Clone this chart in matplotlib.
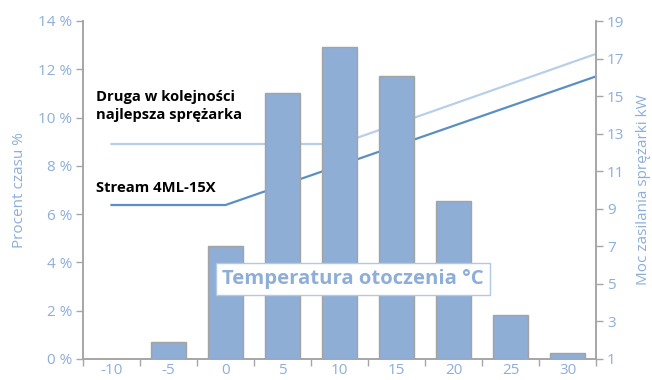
import matplotlib
matplotlib.use("Agg")
import matplotlib.pyplot as plt
import numpy as np

plt.rcParams['font.family'] = ['Open Sans', 'DejaVu Sans']

# Ambient temperature bins (°C) and share of time (%)
temps = [-10, -5, 0, 5, 10, 15, 20, 25, 30]
time_share = [0.0, 0.70, 4.68, 11.02, 12.92, 11.72, 6.55, 1.82, 0.25]

# Compressor input power (kW) vs temperature
stream_t = [-10, 0, 32.5]
stream_kw = [9.2, 9.2, 16.05]
second_t = [-10, 10, 32.5]
second_kw = [12.45, 12.45, 17.25]

y_left_ticks = list(range(0, 15, 2))
y_right_ticks = list(range(1, 20, 2))

label_c = '#8eaed8'
bar_c = '#8eaed6'
edge_c = '#a3a3a3'
axis_c = '#a6a6a6'

fig = plt.figure(figsize=(6.52, 3.80), dpi=100)
ax = fig.add_axes([83 / 652, 1 - 359 / 380, (596 - 83) / 652, (359 - 21) / 380])

ax.bar(temps, time_share, width=3.1, color=bar_c, edgecolor=edge_c, linewidth=1.0, zorder=3)
ax.set_xlim(-12.5, 32.5)
ax.set_ylim(0, 14)
ax.set_yticks(y_left_ticks)
ax.set_yticklabels([f'{v} %' for v in y_left_ticks])
ax.set_xticks(temps)
ax.set_xticklabels([str(t) for t in temps])
ax.set_xticks(np.arange(-12.5, 33, 5), minor=True)
ax.tick_params(axis='x', which='major', length=0, pad=3, labelsize=11, labelcolor=label_c)
ax.tick_params(axis='x', which='minor', length=5, width=1, color=axis_c, direction='out')
ax.tick_params(axis='y', length=5, width=1, color=axis_c, labelsize=11, labelcolor=label_c, pad=3)
ax.set_ylabel('Procent czasu %', color=label_c, fontsize=11, labelpad=8)

ax.spines['top'].set_visible(False)
for s in ['left', 'bottom', 'right']:
    ax.spines[s].set_color(axis_c)
    ax.spines[s].set_linewidth(1.2)

ax2 = ax.twinx()
ax2.set_ylim(1, 19)
ax2.set_yticks(y_right_ticks)
ax2.tick_params(axis='y', length=5, width=1, color=axis_c, labelsize=11, labelcolor=label_c, pad=3)
ax2.set_ylabel('Moc zasilania sprężarki kW', color=label_c, fontsize=11, labelpad=8)
ax2.spines['top'].set_visible(False)
for s in ['left', 'bottom', 'right']:
    ax2.spines[s].set_color(axis_c)
    ax2.spines[s].set_linewidth(1.2)

ax2.plot(second_t, second_kw, color='#b9cfe8', linewidth=1.6, zorder=2)
ax2.plot(stream_t, stream_kw, color='#5b8fc3', linewidth=1.6, zorder=2)
ax.set_zorder(ax2.get_zorder() + 1)
ax.patch.set_visible(False)

ax.text(96 / 652, 1 - 106 / 380, 'Druga w kolejności\nnajlepsza sprężarka', transform=fig.transFigure,
        fontsize=10.6, fontweight='bold', color='black', ha='left', va='center', linespacing=1.3)
ax.text(96 / 652, 1 - 188 / 380, 'Stream 4ML-15X', transform=fig.transFigure,
        fontsize=10.6, fontweight='bold', color='black', ha='left', va='center')

fig.text(353 / 652, 1 - 279 / 380, 'Temperatura otoczenia °C', fontsize=14.6, fontweight='bold',
         color=label_c, ha='center', va='center', zorder=10,
         bbox=dict(boxstyle='square,pad=0.3', facecolor='white', edgecolor='#b5c8e2', linewidth=1))

fig.savefig('out.png', dpi=100)
